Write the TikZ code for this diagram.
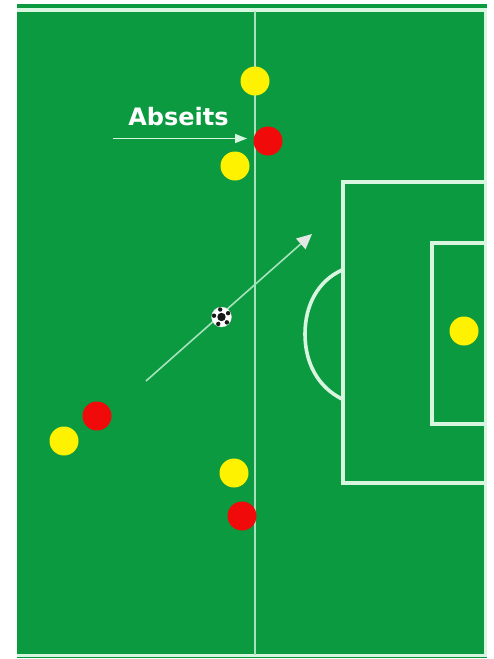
\documentclass[tikz,border=0pt]{standalone}
\usepackage{fontspec}
\setmainfont{DejaVu Sans}
\usetikzlibrary{arrows.meta}
\definecolor{pitch}{HTML}{0B9A40}
\definecolor{linec}{HTML}{D8F5E0}
\definecolor{thin}{HTML}{A6E3BC}
\definecolor{yel}{HTML}{FFF200}
\definecolor{redp}{HTML}{F00A0A}
\definecolor{headc}{HTML}{E4E8E4}
\tikzset{
  x=1pt,y=-1pt,
  fieldline/.style={draw=linec,line width=3.6pt,line join=miter},
  yellowp/.style={circle,fill=yel,minimum size=29pt,inner sep=0pt},
  redplayer/.style={circle,fill=redp,minimum size=29pt,inner sep=0pt},
  pass/.style={draw=thin,line width=1.6pt,-{Triangle[length=15pt,width=14pt,fill=headc,color=headc]}},
  offarrow/.style={draw=linec,line width=1.4pt,-{Triangle[length=12pt,width=9pt,fill=linec,color=linec]}}
}
\begin{document}
\begin{tikzpicture}
\useasboundingbox (0,0) rectangle (494,659);
\fill[white] (0,0) rectangle (494,659);
\fill[pitch] (17,4) rectangle (487,658);
% outer lines
\draw[fieldline] (17,10) -- (485.5,10) -- (485.5,655.5) -- (17,655.5);
% halfway line
\draw[draw=thin,line width=1.8pt] (255,11) -- (255,655);
% penalty area
\draw[fieldline] (485,182) -- (343,182) -- (343,483) -- (485,483);
% goal area
\draw[fieldline] (485,243) -- (432,243) -- (432,424) -- (485,424);
% arc
\draw[fieldline] (342,270) .. controls (318,281) and (305,305) .. (305,334) .. controls (305,363) and (318,387) .. (342,399);
% players
\node[yellowp] (y1) at (255,81) {};
\node[redplayer] (r1) at (268,141) {};
\node[yellowp] (y2) at (235,166) {};
\node[yellowp] (y3) at (464,331) {};
\node[redplayer] (r2) at (97,416) {};
\node[yellowp] (y4) at (64,441) {};
\node[yellowp] (y5) at (234,473) {};
\node[redplayer] (r3) at (242,516) {};
% label
\node[font=\bfseries\fontsize{24}{24}\selectfont,text=white,anchor=center] (lab) at (178.5,116.5) {Abseits};
% offside arrow
\coordinate (o0) at (113,138.5);
\coordinate (o1) at (247,138.5);
\draw[offarrow] (o0) -- (o1);
% pass arrow
\coordinate (p0) at (146,381);
\coordinate (p1) at (312,234);
\draw[pass] (p0) -- (p1);
% ball
\node[circle,fill=white,draw=black!15,line width=.3pt,minimum size=20pt,inner sep=0pt] (ball) at (221.5,317) {};
\fill[black!90] (ball.center) circle (4.2pt);
\foreach \a in {30,100,170,245,315}{
  \fill[black!90] (ball.center) ++(\a:7.6pt) circle (2.2pt);
}
\end{tikzpicture}
\end{document}
